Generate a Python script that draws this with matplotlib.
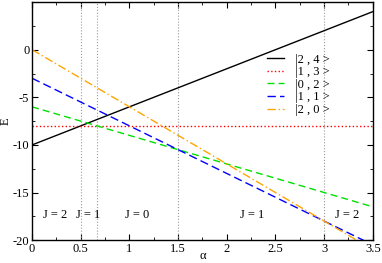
import numpy as np
import matplotlib
matplotlib.use("Agg")
import matplotlib.pyplot as plt
from matplotlib.ticker import MultipleLocator

plt.rcParams['font.family'] = ['Liberation Serif', 'DejaVu Serif']
plt.rcParams['axes.unicode_minus'] = False

alpha = np.array([0.0, 3.5])
labels = ["|2 , 4 >", "|1 , 3 >", "|0 , 2 >", "|1 , 1 >", "|2 , 0 >"]
e0 = [-10.0, -8.0, -6.0, -3.0, 0.0]
slopes = [4.0, 0.0, -3.0, -5.0, -6.0]
colors = ["black", "red", "#00e000", "#0000ff", "orange"]
styles = ["-", ":", (0, (5, 3)), (0, (6, 3)), (0, (6, 2, 1, 2))]

vlines = [0.5, 2/3, 1.5, 3.0]
j_text = ["J = 2", "J = 1", "J = 0", "J = 1", "J = 2"]
j_x = [0.24, 0.58, 1.08, 2.26, 3.24]
j_y = -17.4

fig = plt.figure(figsize=(3.82, 2.63), dpi=100)
ax = fig.add_axes([0.084, 0.087, 0.892, 0.905])

for v in vlines:
    ax.axvline(v, color="#999999", lw=0.8, ls=":")

for lab, a, b, c, s in zip(labels, e0, slopes, colors, styles):
    ax.plot(alpha, a + b * alpha, color=c, ls=s, lw=1.0, label=lab)

for t, x in zip(j_text, j_x):
    ax.text(x, j_y, t, ha="center", va="center", fontsize=9)

ax.set_xlim(0, 3.5)
ax.set_ylim(-20, 5)
ax.xaxis.set_minor_locator(MultipleLocator(0.25))
ax.yaxis.set_major_locator(MultipleLocator(5))
ax.yaxis.set_minor_locator(MultipleLocator(2.5))
ax.set_xticks([0, 0.5, 1, 1.5, 2, 2.5, 3, 3.5])
ax.set_xticklabels(["0", "0.5", "1", "1.5", "2", "2.5", "3", "3.5"])
ax.set_yticks([-20, -15, -10, -5, 0])
ax.set_yticklabels(["-20", "-15", "-10", "-5", "0"])
ax.tick_params(which="both", direction="in", top=True, right=True, labelsize=9, pad=2)
ax.tick_params(which="major", length=4)
ax.tick_params(which="minor", length=2)
ax.set_xlabel("α", fontsize=9)
ax.xaxis.set_label_coords(0.5, -0.065)
ax.xaxis.label.set_va("center")
ax.set_ylabel("E", fontsize=9, labelpad=1)
for sp in ax.spines.values():
    sp.set_linewidth(1.0)

ax.legend(loc="upper left", bbox_to_anchor=(0.672, 0.81), frameon=False, fontsize=9,
          handlelength=1.3, handletextpad=0.9, labelspacing=0.05, borderpad=0)

fig.savefig("out.png", dpi=100)
